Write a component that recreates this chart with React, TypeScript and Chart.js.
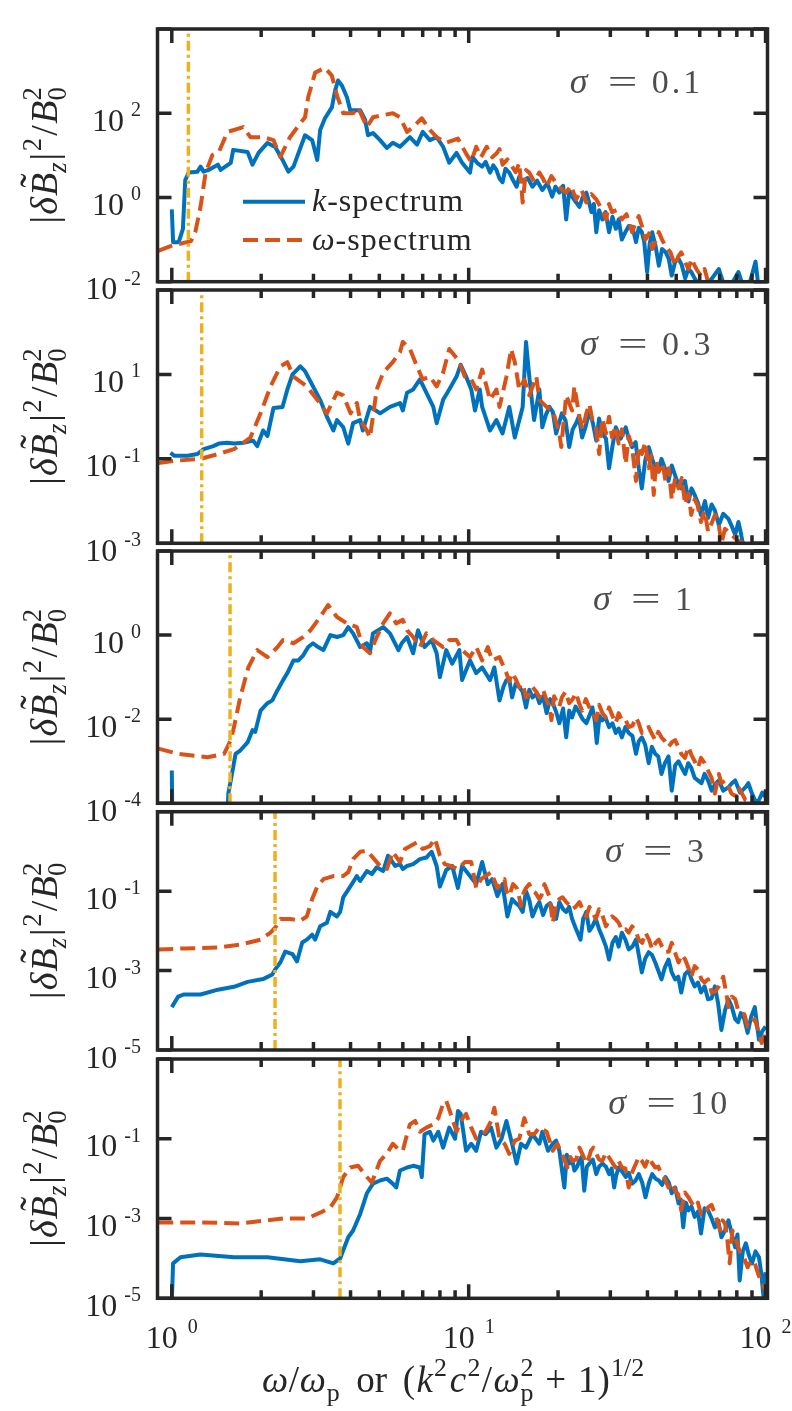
import React, { useEffect, useRef } from 'react';
import { Chart, registerables } from 'chart.js';

Chart.register(...registerables);

// ---------------- data (x, |dB|^2/B0^2) ----------------
const P1_K: [number, number][] = [
  [1.0, 0.52], [1.01, 0.087], [1.055, 0.087], [1.09, 0.18], [1.11, 2.6], [1.14, 3.9], [1.22, 4.1], [1.25, 5.4],
  [1.28, 4.1], [1.33, 4.5], [1.43, 6], [1.46, 4.5], [1.58, 6.6], [1.61, 13.5], [1.8, 12], [1.87, 6], [1.96, 11.4],
  [2.1, 19.7], [2.23, 15.8], [2.36, 7.8], [2.47, 4.1], [2.57, 5.4], [2.81, 30], [2.97, 23], [3.09, 7.8], [3.16, 40],
  [3.28, 76], [3.46, 138], [3.55, 350], [3.63, 600], [3.74, 457], [3.89, 240], [3.99, 118], [4.31, 118], [4.48, 69],
  [4.58, 30], [4.76, 34], [5.03, 23], [5.3, 15], [5.55, 20], [5.87, 16], [6.34, 27], [6.7, 18], [7.0, 36], [7.4, 23],
  [7.8, 27], [8.2, 16], [8.6, 6.7], [9.1, 11.4], [9.5, 6.7], [10.1, 3.9], [10.3, 9.2], [10.7, 6.5], [11.1, 5.4],
  [11.4, 7], [11.8, 3.9], [12.1, 5.8], [12.4, 4.5], [12.7, 2.8], [13.0, 2.3], [13.3, 4.8], [13.7, 3.9], [14.1, 2.6],
  [14.5, 1.8], [14.8, 3.1], [15.2, 2.4], [15.8, 2.9], [16.4, 1.8], [17, 2.5], [17.7, 1.5], [18.4, 2.2], [19.1, 1.05],
  [19.6, 1.8], [20.2, 1.3], [20.8, 1.9], [21.3, 0.3], [21.8, 1.4], [22.3, 1.05], [22.9, 0.8], [23.6, 0.6], [24.2, 1.0],
  [24.9, 1.3], [25.4, 0.8], [25.9, 0.45], [26.4, 0.7], [26.9, 0.15], [27.5, 0.5], [28.2, 0.3], [28.9, 0.45],
  [29.7, 0.15], [30.5, 0.35], [31.3, 0.18], [32, 0.3], [32.8, 0.1], [33.7, 0.15], [34.6, 0.21], [35.6, 0.2],
  [36.6, 0.087], [37.4, 0.19], [38.3, 0.15], [39, 0.09], [39.9, 0.017], [40.7, 0.08], [41.5, 0.15], [42.6, 0.07],
  [43.7, 0.024], [44.8, 0.06], [46.0, 0.051], [47.2, 0.035], [48.3, 0.014], [49.6, 0.03], [50.9, 0.035],
  [52.2, 0.025], [53.6, 0.012], [54.9, 0.02], [56.2, 0.017], [57.7, 0.012], [59.2, 0.009], [62, 0.007], [66, 0.012],
  [69.6, 0.02], [73, 0.007], [77, 0.009], [81, 0.017], [85, 0.006], [89, 0.011], [92.5, 0.03], [95, 0.006], [98, 0.008],
];
const P1_W: [number, number][] = [
  [0.9, 0.054], [0.99, 0.07], [1.16, 0.092], [1.2, 0.15], [1.25, 0.61], [1.3, 3.9], [1.37, 10.2], [1.44, 12],
  [1.54, 36], [1.74, 47], [1.84, 27], [2.03, 27], [2.2, 23], [2.32, 9.2], [2.5, 27], [2.71, 58], [2.81, 80],
  [2.88, 240], [3.04, 920], [3.28, 1200], [3.46, 780], [3.6, 265], [3.78, 100], [4.08, 100], [4.24, 138], [4.54, 47],
  [4.76, 80], [5.15, 90], [5.55, 100], [5.87, 80], [6.2, 36], [6.5, 47], [6.95, 76], [7.4, 40], [7.8, 27], [8.4, 20],
  [9.2, 25], [9.8, 11], [10.2, 7], [10.6, 16], [11, 9], [11.5, 16], [12, 9], [12.4, 11], [12.7, 14], [13.0, 6],
  [13.5, 8], [14.0, 5.4], [14.4, 4], [14.8, 6.6], [15.2, 0.76], [15.6, 4.5], [16.0, 3.9], [16.6, 2.4], [17.3, 3.9],
  [17.8, 2.8], [18.3, 1.8], [19, 3.2], [19.7, 2.2], [20.5, 1.6], [21.3, 1.3], [22.1, 1.9], [23.0, 0.9], [24, 1.5],
  [24.9, 0.76], [25.9, 1.2], [26.9, 0.9], [28, 0.55], [29.0, 0.3], [29.7, 0.7], [30.4, 0.45], [31.5, 0.5], [32.8, 0.3],
  [34, 0.4], [35.5, 0.15], [36.5, 0.25], [37.4, 0.36], [38.4, 0.2], [39.4, 0.1], [40.5, 0.14], [41.5, 0.06],
  [42.6, 0.09], [43.7, 0.15], [44.8, 0.1], [46.0, 0.07], [47.8, 0.05], [49.6, 0.024], [50.8, 0.04], [52.0, 0.05],
  [53.5, 0.03], [55.0, 0.02], [56.3, 0.035], [57.7, 0.024], [59, 0.018], [60.6, 0.014], [62.3, 0.02], [64, 0.01],
  [65.5, 0.012], [67, 0.008],
];
const P2_K: [number, number][] = [
  [0.99, 0.14], [1.02, 0.118], [1.13, 0.118], [1.22, 0.13], [1.28, 0.17], [1.38, 0.2], [1.44, 0.23], [1.54, 0.24],
  [1.62, 0.23], [1.74, 0.24], [1.88, 0.27], [1.94, 0.2], [2.03, 0.47], [2.1, 0.35], [2.2, 1.6], [2.36, 1.7],
  [2.45, 4.4], [2.55, 10], [2.71, 15.5], [2.81, 12], [2.99, 5.2], [3.16, 2.5], [3.33, 1], [3.5, 0.47], [3.6, 0.83],
  [3.78, 0.56], [3.93, 0.23], [4.08, 0.7], [4.31, 0.83], [4.4, 0.47], [4.65, 1.7], [5.03, 1.2], [5.43, 1.7],
  [5.87, 2.1], [6.0, 1.4], [6.2, 3.7], [6.5, 4.4], [6.85, 7.6], [7.2, 3.7], [7.6, 1.7], [7.8, 0.7], [8.2, 2.5],
  [8.6, 4.4], [9.1, 8.9], [9.4, 17], [9.8, 8.9], [10.2, 4.4], [10.5, 1.4], [10.9, 4.4], [11.1, 1.7], [11.8, 0.47],
  [12.4, 0.83], [13, 0.4], [13.7, 1.7], [14.3, 0.32], [15.2, 1.7], [15.6, 59], [16, 8.9], [16.6, 0.83], [17.3, 4.4],
  [17.7, 0.56], [18.2, 1.1], [18.7, 1.7], [19.2, 1.3], [19.7, 0.4], [20.6, 1.2], [21.2, 0.8], [21.8, 0.19],
  [22.4, 0.5], [23, 0.7], [23.5, 1.0], [24.1, 0.32], [24.8, 0.6], [25.5, 1.4], [26.2, 0.7], [26.9, 0.27], [27.5, 0.9],
  [28.2, 0.4], [29, 0.3], [29.7, 0.06], [30.5, 0.2], [31.3, 0.56], [32.5, 0.3], [33.8, 0.56], [34.6, 0.3],
  [35.5, 0.19], [36.5, 0.25], [37.4, 0.06], [38.3, 0.02], [39.3, 0.09], [40.4, 0.19], [41.5, 0.1], [42.5, 0.06],
  [43.5, 0.05], [44.6, 0.1], [45.8, 0.06], [47.1, 0.03], [48.3, 0.07], [49.6, 0.04], [50.8, 0.025], [52, 0.02],
  [53.5, 0.03], [55, 0.0098], [56.3, 0.02], [57.7, 0.014], [59.2, 0.009], [60.6, 0.0047], [62.5, 0.01], [64, 0.004],
  [65.8, 0.0083], [67.5, 0.006], [69.6, 0.0027], [72, 0.005], [75, 0.0038], [77, 0.0025], [79, 0.0016], [81, 0.0032],
  [82.5, 0.0018], [84, 0.0009],
];
const P2_W: [number, number][] = [
  [0.9, 0.08], [1.02, 0.09], [1.25, 0.1], [1.43, 0.13], [1.62, 0.17], [1.84, 0.32], [1.99, 1.2], [2.15, 5.2],
  [2.32, 15.5], [2.45, 19.5], [2.57, 8.9], [2.85, 5.2], [3.09, 2.5], [3.33, 1.2], [3.6, 3.7], [3.78, 3.2], [4.0, 1.2],
  [4.2, 2.1], [4.31, 0.83], [4.54, 0.47], [4.65, 0.32], [4.9, 4.4], [5.15, 11], [5.55, 19.5], [5.87, 34], [6.0, 59],
  [6.34, 40], [6.7, 15.5], [7.0, 7.6], [7.4, 8.9], [7.8, 5.2], [8.2, 11], [8.6, 40], [9.0, 27], [9.3, 19.5],
  [9.7, 8.9], [10.1, 8.9], [10.6, 4.4], [11.1, 13], [11.8, 2.5], [12.4, 4.4], [12.7, 1.7], [13.4, 8.9], [13.9, 40],
  [14.3, 19.5], [14.8, 4.4], [15.4, 7.6], [16, 3.2], [16.9, 8.9], [17.3, 2.5], [18.3, 1.7], [19.2, 1.4], [20.2, 0.4],
  [20.5, 0.19], [21.3, 3.2], [22.3, 1.4], [22.7, 5.2], [23.6, 1], [24.2, 0.5], [24.9, 1.2], [25.5, 2], [26.1, 0.83],
  [26.8, 0.6], [27.5, 0.13], [28.2, 0.9], [29, 0.4], [29.7, 1.0], [30.4, 0.32], [31.2, 0.6], [32, 0.23], [32.8, 0.5],
  [33.8, 0.076], [34.6, 0.35], [35.5, 0.19], [36.6, 0.03], [37.4, 0.2], [38.3, 0.13], [39.3, 0.25], [40.4, 0.06],
  [41.2, 0.12], [42, 0.014], [42.8, 0.09], [43.7, 0.05], [45, 0.08], [46, 0.03], [47.2, 0.06], [48.3, 0.011],
  [49.6, 0.035], [50.9, 0.02], [52.2, 0.035], [53.6, 0.0083], [55, 0.015], [56.2, 0.0047], [57.7, 0.011], [59, 0.008],
  [60.6, 0.0032], [62.3, 0.006], [64, 0.0019], [65.8, 0.003], [67.5, 0.0047], [69.2, 0.0035], [71, 0.001],
  [73, 0.0022], [76.8, 0.0016], [80, 0.0012], [85.5, 0.00095],
];
const P3_K: [number, number][] = [
  [1.0, 6e-4], [1.004, 5e-5], [1.54, 5e-5], [1.55, 1.7e-4], [1.58, 3.5e-4], [1.64, 1.5e-3], [1.7, 1.8e-3],
  [1.8, 2.8e-3], [1.87, 5.5e-3], [1.91, 5e-3], [1.99, 0.016], [2.1, 0.024], [2.18, 0.028], [2.27, 0.049],
  [2.37, 0.085], [2.45, 0.125], [2.57, 0.25], [2.67, 0.25], [2.77, 0.33], [2.88, 0.52], [2.99, 0.64], [3.11, 0.52],
  [3.24, 0.44], [3.42, 1], [3.6, 0.9], [3.78, 1], [3.93, 1.55], [4.08, 1.1], [4.31, 0.52], [4.54, 0.64], [4.65, 0.4],
  [4.76, 1.1], [5.15, 1.55], [5.43, 1.1], [5.8, 0.44], [5.95, 0.64], [6.2, 0.9], [6.5, 0.37], [6.75, 1.3],
  [7.1, 0.52], [7.5, 0.76], [7.8, 0.37], [8.0, 0.1], [8.4, 0.44], [8.8, 0.21], [9.3, 0.44], [9.5, 0.085],
  [10.1, 0.25], [10.6, 0.125], [11.1, 0.17], [11.8, 0.085], [12.2, 0.17], [12.7, 0.028], [13.1, 0.06], [13.4, 0.085],
  [13.7, 0.09], [14, 0.033], [14.4, 0.07], [14.8, 0.058], [15.2, 0.045], [15.6, 0.019], [16, 0.05], [16.4, 0.033],
  [16.9, 0.04], [17.3, 0.024], [17.8, 0.035], [18.3, 0.014], [18.8, 0.03], [19.2, 0.024], [19.7, 0.015], [20.2, 0.008],
  [20.8, 0.018], [21.3, 0.0037], [21.8, 0.016], [22.3, 0.011], [22.9, 0.02], [23.6, 0.014], [24.2, 0.01],
  [24.9, 0.008], [25.5, 0.012], [26.1, 0.019], [26.6, 0.009], [27, 0.0027], [27.6, 0.012], [28.2, 0.0094],
  [28.9, 0.011], [29.7, 0.0065], [30.5, 0.008], [31.3, 0.0047], [32, 0.006], [32.8, 0.0037], [33.7, 0.0065],
  [34.6, 0.0047], [35.6, 0.004], [36.6, 0.0015], [37.4, 0.003], [38.3, 0.0037], [39.3, 0.0025], [40.4, 9e-4],
  [41.4, 0.0022], [42.5, 0.0015], [43.5, 0.0013], [44.6, 5e-4], [45.8, 9e-4], [47.1, 0.0013], [48.3, 2e-4],
  [49.6, 8e-4], [50.9, 0.001], [52.2, 7e-4], [53.6, 5e-4], [54.9, 9e-4], [56.2, 7e-4], [57.7, 4e-4], [59.2, 3.5e-4],
  [60.8, 3e-4], [62.3, 5e-4], [64, 3.5e-4], [65.8, 2e-4], [67.5, 2.8e-4], [69.6, 3.5e-4], [72, 2e-4], [75, 2.4e-4],
  [77, 3e-4], [79, 3.5e-4], [82, 1.8e-4], [85.5, 2.4e-4], [87.5, 3e-4], [90, 1.7e-4], [92.5, 1.1e-4], [95, 1.2e-4],
  [97.5, 1.8e-4], [100, 1.4e-4],
];
const P3_W: [number, number][] = [
  [0.9, 2e-3], [1.05, 1.5e-3], [1.32, 1.25e-3], [1.5, 1.5e-3], [1.58, 3.2e-3], [1.62, 6.5e-3], [1.7, 0.033],
  [1.81, 0.17], [1.94, 0.44], [2.1, 0.3], [2.27, 0.52], [2.37, 0.76], [2.57, 0.64], [2.77, 0.9], [2.93, 1.3],
  [3.16, 2.7], [3.36, 5.2], [3.6, 2.7], [3.89, 1.9], [4.2, 1.55], [4.4, 0.52], [4.65, 0.37], [4.9, 0.9], [5.15, 1.9],
  [5.43, 3.3], [5.7, 1.9], [6.0, 2.3], [6.2, 1.3], [6.5, 0.9], [6.85, 0.52], [7.2, 1.1], [7.6, 0.76], [8.2, 0.52],
  [8.6, 0.76], [9.1, 0.76], [9.5, 0.44], [10.1, 0.3], [10.6, 0.52], [11.1, 0.25], [11.6, 0.52], [12, 0.25],
  [12.7, 0.3], [13.4, 0.125], [13.7, 0.08], [14, 0.125], [14.4, 0.09], [14.8, 0.058], [15.2, 0.07], [15.6, 0.033],
  [16, 0.04], [16.4, 0.058], [16.9, 0.045], [17.3, 0.033], [17.8, 0.05], [18.3, 0.028], [18.7, 0.02], [19, 0.0095],
  [19.4, 0.035], [19.7, 0.028], [20.2, 0.02], [20.6, 0.033], [21.2, 0.045], [21.8, 0.024], [22.4, 0.03], [23, 0.042],
  [23.5, 0.025], [24.1, 0.016], [24.8, 0.03], [25.5, 0.019], [26.2, 0.014], [26.9, 0.0095], [27.5, 0.022],
  [28.2, 0.014], [29, 0.011], [29.7, 0.019], [30.5, 0.012], [31.3, 0.008], [32, 0.014], [32.8, 0.0095], [33.7, 0.01],
  [34.6, 0.0065], [35.6, 0.007], [36.6, 0.011], [37.4, 0.008], [38.3, 0.0047], [39.3, 0.006], [40.4, 0.0065],
  [41.4, 0.0045], [42.5, 0.0032], [43.5, 0.005], [44.6, 0.0037], [45.8, 0.003], [47.1, 0.0022], [48.3, 0.0028],
  [49.6, 0.0032], [50.8, 0.0022], [52, 0.0015], [53.5, 0.0012], [55, 0.0022], [56.3, 0.0014], [57.7, 0.001],
  [59.2, 7e-4], [60.6, 0.0012], [62.3, 9e-4], [64, 6e-4], [65.8, 4e-4], [67.5, 1.7e-4], [69.6, 5e-4], [71, 3e-4],
  [73, 3.5e-4], [75, 2.5e-4], [76.8, 1.7e-4], [79, 1.5e-4], [81, 2.4e-4], [83, 1.8e-4], [85.5, 1.2e-4], [88, 1.1e-4],
  [90, 1e-4],
];
const P4_K: [number, number][] = [
  [1.0, 1.2e-4], [1.05, 2.2e-4], [1.1, 2.5e-4], [1.25, 2.5e-4], [1.43, 3.3e-4], [1.62, 3.9e-4], [1.8, 5.2e-4],
  [2.03, 6.1e-4], [2.18, 8e-4], [2.23, 1.07e-3], [2.32, 1.6e-3], [2.41, 3e-3], [2.55, 2.6e-3], [2.64, 1.7e-3],
  [2.75, 5.1e-3], [2.85, 6e-3], [2.97, 8e-3], [3.04, 6e-3], [3.16, 0.013], [3.33, 0.016], [3.42, 0.03], [3.6, 0.023],
  [3.69, 0.03], [3.78, 0.07], [3.99, 0.13], [4.2, 0.24], [4.31, 0.18], [4.54, 0.32], [4.72, 0.27], [4.9, 0.4],
  [5.15, 0.32], [5.35, 0.78], [5.65, 0.43], [5.87, 0.48], [6.0, 0.36], [6.2, 0.43], [6.5, 0.48], [6.85, 0.64],
  [7.2, 0.7], [7.5, 0.98], [7.8, 0.43], [8.0, 0.13], [8.4, 0.34], [8.8, 0.43], [9.2, 0.12], [9.5, 0.43], [10.1, 0.24],
  [10.6, 0.15], [11.1, 0.54], [11.6, 0.15], [12, 0.2], [12.5, 0.075], [13, 0.15], [13.5, 0.023], [14, 0.063],
  [14.4, 0.05], [14.8, 0.042], [15.2, 0.03], [15.6, 0.1], [16, 0.06], [16.4, 0.023], [16.9, 0.04], [17.3, 0.053],
  [17.8, 0.025], [18.3, 0.042], [18.8, 0.05], [19.2, 0.035], [19.7, 0.02], [20.2, 0.053], [20.8, 0.035], [21.3, 0.03],
  [21.8, 0.04], [22.3, 0.02], [22.9, 0.012], [23.8, 6e-3], [24.3, 0.02], [24.9, 0.03], [25.5, 0.01], [26.1, 0.013],
  [26.8, 0.02], [27.5, 0.011], [28.2, 0.007], [29, 4e-3], [29.7, 1.9e-3], [30.5, 0.005], [31.3, 7e-3], [32, 0.004],
  [32.8, 9e-3], [33.7, 0.006], [34.6, 3.4e-3], [35.6, 0.004], [36.6, 6e-3], [37.4, 0.0025], [38.3, 9e-4],
  [39.3, 0.002], [40.4, 2.9e-3], [41.4, 0.0025], [42.5, 1.6e-3], [43.5, 0.001], [44.6, 6e-4], [45.8, 0.0012],
  [47.1, 1.9e-3], [48.3, 9e-4], [49.6, 6e-4], [50.8, 7e-4], [52, 2.8e-4], [53.5, 8e-4], [55, 1e-3], [56.3, 6e-4],
  [57.7, 4e-4], [59.2, 5e-4], [60.6, 2.8e-4], [62.3, 4e-4], [64, 1.9e-4], [65.8, 2e-4], [67.5, 4e-4], [69.2, 1.5e-4],
  [71, 3.2e-5], [73, 1e-4], [75, 1.9e-4], [77, 1.2e-4], [79, 6e-5], [80.8, 5e-5], [82.5, 8.5e-5], [84.8, 6e-5],
  [87, 2.7e-5], [89.5, 7e-5], [92, 1.2e-4], [95, 1.8e-5], [97.5, 3e-5], [100, 3.9e-5],
];
const P4_W: [number, number][] = [
  [0.9, 3.4e-3], [1.1, 3.6e-3], [1.43, 3.8e-3], [1.7, 4.5e-3], [1.99, 6e-3], [2.15, 9e-3], [2.23, 0.012],
  [2.32, 0.02], [2.5, 0.02], [2.71, 0.018], [2.85, 0.023], [2.97, 0.063], [3.09, 0.13], [3.24, 0.2], [3.5, 0.24],
  [3.78, 0.24], [3.93, 0.3], [4.08, 0.64], [4.31, 0.98], [4.54, 1.05], [4.76, 0.7], [5.03, 0.43], [5.3, 0.36],
  [5.55, 0.98], [5.87, 0.54], [6.1, 1.15], [6.34, 1.35], [6.7, 1.7], [7.0, 1.15], [7.4, 1.35], [7.7, 2.1], [8.0, 0.78],
  [8.3, 0.48], [8.7, 0.43], [9.2, 0.36], [9.7, 0.54], [10.2, 0.54], [10.6, 0.12], [11, 0.2], [11.4, 0.24], [11.9, 0.3],
  [12.5, 0.12], [12.8, 0.15], [13.2, 0.2], [13.4, 0.1], [13.7, 0.075], [14.1, 0.15], [14.5, 0.12], [14.8, 0.07],
  [15, 0.042], [15.3, 0.09], [15.6, 0.12], [16, 0.15], [16.4, 0.1], [16.8, 0.09], [17.3, 0.063], [17.6, 0.08],
  [18, 0.15], [18.4, 0.1], [18.7, 0.075], [19.2, 0.016], [19.7, 0.05], [20.2, 0.063], [20.7, 0.07], [21.3, 0.053],
  [21.8, 0.045], [22.3, 0.035], [22.9, 0.04], [23.6, 0.053], [24.2, 0.035], [24.9, 0.023], [25.5, 0.04], [26.1, 0.03],
  [26.8, 0.02], [27.5, 0.035], [28.2, 0.025], [29, 0.013], [29.7, 0.018], [30.4, 0.023], [31.2, 0.02], [32, 0.016],
  [32.9, 0.01], [33.8, 0.011], [34.6, 0.009], [35.5, 0.013], [36.5, 0.01], [37.4, 6e-3], [38.4, 0.005], [39.4, 9e-3],
  [40.5, 0.006], [41.5, 3.4e-3], [42.6, 0.005], [43.7, 6e-3], [44.8, 0.004], [46, 2.9e-3], [47.2, 0.003], [48.3, 5e-3],
  [49.6, 0.0028], [50.9, 1.6e-3], [52.2, 0.0025], [53.6, 1.9e-3], [54.9, 0.0012], [56.2, 7e-4], [57.7, 0.0013],
  [59.2, 1.07e-3], [60.8, 6e-4], [62.3, 5e-4], [64, 6e-4], [65.8, 2.8e-4], [67.7, 3e-4], [69.6, 4e-4], [70.8, 5e-4],
  [72, 7e-4], [73.5, 3e-4], [75, 1.2e-4], [77, 2.2e-4], [79, 1.9e-4], [80.8, 1e-4], [82.5, 8.5e-5], [84.8, 8e-5],
  [87, 3.9e-5], [89.5, 5e-5], [92, 6e-5], [94.5, 3e-5], [97, 1.5e-5], [100, 2.7e-5],
];
const P5_K: [number, number][] = [
  [1.0, 8e-6], [1.01, 7.5e-5], [1.07, 1.07e-4], [1.25, 1.26e-4], [1.62, 1.07e-4], [2.1, 1.07e-4], [2.71, 8.5e-5],
  [3.16, 9.5e-5], [3.5, 7.5e-5], [3.69, 1e-4], [3.78, 1.6e-4], [3.93, 3.4e-4], [4.08, 5e-4], [4.31, 1.3e-3],
  [4.54, 4.3e-3], [4.76, 7.5e-3], [5.03, 9e-3], [5.3, 0.01], [5.55, 7.5e-3], [5.7, 6e-3], [5.87, 0.016], [6.2, 0.019],
  [6.5, 0.021], [6.85, 0.019], [6.95, 0.011], [7.1, 0.13], [7.4, 0.15], [7.6, 0.09], [7.9, 0.15], [8.2, 0.06],
  [8.6, 0.19], [9.0, 0.1], [9.2, 0.5], [9.4, 0.42], [9.8, 0.05], [10.2, 0.075], [10.6, 0.05], [11, 0.15], [11.4, 0.13],
  [11.9, 0.19], [12.4, 0.06], [12.9, 0.1], [13.4, 0.28], [14, 0.075], [14.5, 0.024], [15, 0.075], [15.6, 0.06],
  [16.4, 0.13], [17.3, 0.075], [17.7, 0.15], [18.5, 0.05], [19.2, 0.075], [19.7, 0.09], [20.2, 0.05], [21, 6e-3],
  [21.4, 0.04], [21.8, 0.024], [22.3, 0.03], [22.7, 0.016], [23.2, 0.02], [23.6, 0.028], [24, 0.035], [24.5, 5e-3],
  [25, 0.02], [25.5, 0.024], [26.2, 0.03], [26.9, 0.013], [27.5, 0.02], [28.2, 0.024], [29, 0.02], [29.7, 0.013],
  [30.3, 0.018], [30.9, 6e-3], [31.4, 0.012], [32, 0.019], [32.9, 0.015], [33.8, 0.011], [34.6, 0.014], [35.5, 7.5e-3],
  [36.5, 0.009], [37.4, 0.013], [38.4, 0.008], [39.4, 3.4e-3], [40.5, 0.008], [41.5, 0.013], [42.6, 0.01],
  [43.7, 9e-3], [44.8, 0.007], [46, 0.011], [47.2, 0.008], [48.3, 4.3e-3], [49.6, 0.006], [50.9, 2.4e-3],
  [51.8, 0.003], [52.8, 6e-4], [53.9, 0.0025], [55, 1.6e-3], [56.3, 0.002], [57.7, 1.1e-3], [59.2, 0.0015],
  [60.6, 4.2e-4], [62.3, 0.0018], [64, 1.6e-3], [65.8, 0.001], [67.5, 6e-4], [69.2, 9e-4], [71, 3.4e-4], [73, 5e-4],
  [75, 9e-4], [77, 4e-4], [79, 1.9e-4], [80.4, 4e-4], [81.8, 2.8e-5], [83.8, 1.5e-4], [85.8, 2.4e-4], [87.9, 1.2e-4],
  [90, 7.5e-5], [92.5, 1.5e-4], [95, 1.07e-4], [96.8, 4e-5], [98.5, 1e-5], [100, 4.5e-5],
];
const P5_W: [number, number][] = [
  [0.9, 8e-4], [1.25, 8e-4], [1.7, 7.5e-4], [2.37, 1e-3], [2.85, 1e-3], [3.16, 1.4e-3], [3.42, 1.9e-3], [3.6, 3.4e-3],
  [3.78, 0.011], [3.99, 0.019], [4.24, 0.021], [4.54, 0.011], [4.72, 8e-3], [5.03, 0.028], [5.3, 0.042],
  [5.55, 0.075], [5.87, 0.05], [6.0, 0.05], [6.2, 0.13], [6.34, 0.23], [6.6, 0.28], [6.85, 0.15], [7.2, 0.19],
  [7.6, 0.23], [7.9, 0.33], [8.2, 0.75], [8.4, 0.9], [8.7, 0.42], [9.1, 0.15], [9.4, 0.28], [9.8, 0.42], [10.2, 0.19],
  [10.6, 0.1], [11, 0.13], [11.4, 0.15], [11.9, 0.28], [12.2, 0.6], [12.7, 0.1], [13.2, 0.075], [13.7, 0.042],
  [14.3, 0.09], [14.8, 0.1], [15.4, 0.33], [16, 0.13], [16.6, 0.13], [17.3, 0.19], [18.3, 0.15], [19.2, 0.05],
  [19.9, 0.075], [20.6, 0.042], [21, 0.03], [21.5, 0.019], [22, 0.035], [22.3, 0.028], [23, 0.03], [23.6, 0.06],
  [24.2, 0.04], [24.9, 0.024], [25.3, 0.03], [25.8, 0.05], [26.3, 0.06], [26.9, 0.042], [27.5, 0.03], [28.2, 0.028],
  [29, 0.045], [29.7, 0.034], [30.5, 0.025], [31.3, 0.019], [32, 0.028], [32.8, 0.019], [33.7, 0.018], [34.6, 6e-3],
  [35.6, 0.015], [36.6, 0.024], [37.4, 0.035], [38.3, 0.028], [39.3, 0.02], [40.4, 0.034], [41.4, 0.025],
  [42.5, 0.019], [43.5, 0.02], [44.6, 0.013], [45.8, 0.01], [47.1, 6e-3], [48.3, 0.008], [49.6, 5e-3], [50.8, 0.004],
  [52, 1.6e-3], [53.5, 0.0045], [55, 3.4e-3], [56.3, 0.0025], [57.7, 1.9e-3], [59.2, 0.0025], [60.6, 1.3e-3],
  [62.3, 0.0012], [64, 1.9e-3], [65.8, 0.0022], [67.5, 1.3e-3], [69, 0.0008], [70.3, 5e-4], [71.6, 0.0009],
  [73, 7.5e-4], [74.3, 0.0003], [75.7, 7.5e-5], [77.3, 0.0005], [79, 3.4e-4], [80.8, 0.0002], [82.5, 1.3e-4],
  [84.8, 0.0001], [87, 6e-5], [89.5, 0.00009], [92, 7.5e-5], [94.5, 0.00004], [97, 2.4e-5], [100, 1.6e-5],
];

const K_SERIES = [P1_K, P2_K, P3_K, P4_K, P5_K];
const W_SERIES = [P1_W, P2_W, P3_W, P4_W, P5_W];
const SIGMA_VALUES = ['0.1', '0.3', '1', '3', '10'];
const CUTOFF_X = [1.137, 1.261, 1.571, 2.227, 3.686];
const Y_MIN_EXP = [-2, -3, -4, -5, -5];
const Y_MAX_EXP = [4, 3, 2, 1, 1];
const X_MIN = 0.895;
const X_MAX = 101.5;
const X_MAJOR = [1, 10, 100];
const X_MINOR = [2, 3, 4, 5, 6, 7, 8, 9, 20, 30, 40, 50, 60, 70, 80, 90];
const LEGEND_SYMBOLS = ['k', 'ω'];
const LEGEND_SUFFIX = '-spectrum';

// ---------------- layout / style ----------------
const W = 792;
const H = 1411;
const BOX_LEFT = 157.5;
const BOX_RIGHT = 767.5;
const BOX_TOP = [29, 290, 551, 811.7, 1059];
const BOX_BOTTOM = [281.7, 543.3, 803.3, 1050, 1298.3];
// sigma label anchor (left/baseline) in data coordinates
const SIGMA_POS: [number, number][] = [[21.9, 309], [23.7, 28.5], [26.2, 3.93], [28.8, 0.53], [29.5, 0.43]];
const FONT = '"Liberation Serif", "Times New Roman", serif';
const AXIS = '#262626';
const BLUE = '#0072BD';
const ORANGE = '#D95319';
const YELLOW = '#EDB120';
const GREY = '#4D4D4D';
const DASH = [15, 7];
const DASHDOT = [10, 4, 3, 4];
const LW = 4;
const FRAME_LW = 3.5;

interface Run { t: string; it?: boolean; s?: number; dy?: number; dx?: number; acc?: string; st?: Run }

function setFont(ctx: CanvasRenderingContext2D, F: number, r: Run) {
  ctx.font = `${r.it ? 'italic ' : ''}${(F * (r.s ?? 1)).toFixed(2)}px ${FONT}`;
}
function runW(ctx: CanvasRenderingContext2D, F: number, r: Run) {
  setFont(ctx, F, r);
  let w = ctx.measureText(r.t).width;
  if (r.st) {
    setFont(ctx, F, r.st);
    w = Math.max(w, ctx.measureText(r.st.t).width);
  }
  return w;
}
function runsWidth(ctx: CanvasRenderingContext2D, F: number, runs: Run[]) {
  return runs.reduce((a, r) => a + (r.dx ?? 0) * F + runW(ctx, F, r), 0);
}
function drawRuns(ctx: CanvasRenderingContext2D, F: number, runs: Run[], x: number, y: number) {
  let cx = x;
  ctx.textAlign = 'left';
  ctx.textBaseline = 'alphabetic';
  for (const r of runs) {
    cx += (r.dx ?? 0) * F;
    setFont(ctx, F, r);
    const w = ctx.measureText(r.t).width;
    ctx.fillText(r.t, cx, y + (r.dy ?? 0) * F);
    if (r.acc) {
      ctx.font = `${(F * 1.1).toFixed(2)}px ${FONT}`;
      const aw = ctx.measureText(r.acc).width;
      ctx.fillText(r.acc, cx + w / 2 - aw / 2 + 0.1 * F, y - 0.2 * F);
    }
    let ww = w;
    if (r.st) {
      setFont(ctx, F, r.st);
      ctx.fillText(r.st.t, cx, y + (r.st.dy ?? 0) * F);
      ww = Math.max(ww, ctx.measureText(r.st.t).width);
    }
    cx += ww;
  }
}

const SUB = 0.24;
const SUP = -0.42;
const Y_TITLE: Run[] = [
  { t: '|' },
  { t: 'δ', it: true, dx: 0.03 },
  { t: 'B', it: true, acc: '˜', dx: 0.03 },
  { t: 'z', it: true, s: 0.7, dy: SUB },
  { t: '|', dx: 0.05 },
  { t: '2', s: 0.7, dy: SUP, dx: 0.04 },
  { t: '/', dx: 0.06 },
  { t: 'B', it: true, dx: 0.04 },
  { t: '0', s: 0.7, dy: SUB, st: { t: '2', s: 0.7, dy: SUP } },
];
const X_TITLE: Run[] = [
  { t: 'ω', it: true },
  { t: '/', dx: 0.02 },
  { t: 'ω', it: true, dx: 0.02 },
  { t: 'p', s: 0.7, dy: SUB, dx: 0.02 },
  { t: 'or', dx: 0.45 },
  { t: '(', dx: 0.42 },
  { t: 'k', it: true, dx: 0.04 },
  { t: '2', s: 0.7, dy: SUP, dx: 0.03 },
  { t: 'c', it: true, dx: 0.08 },
  { t: '2', s: 0.7, dy: SUP, dx: 0.03 },
  { t: '/', dx: 0.04 },
  { t: 'ω', it: true, dx: 0.04 },
  { t: 'p', s: 0.7, dy: SUB, dx: 0.02, st: { t: '2', s: 0.7, dy: SUP } },
  { t: '+', dx: 0.32 },
  { t: '1', dx: 0.32 },
  { t: ')', dx: 0.03 },
  { t: '1/2', s: 0.7, dy: SUP, dx: 0.03 },
];

function powSizes(ctx: CanvasRenderingContext2D, exp: number, F: number, EF: number, gap: number) {
  ctx.font = `${F}px ${FONT}`;
  const tw = ctx.measureText('10').width;
  ctx.font = `${EF}px ${FONT}`;
  const ew = ctx.measureText(String(exp)).width;
  return { tw, ew, total: tw + gap + ew };
}

function makeDeco(i: number) {
  return {
    id: 'deco' + i,
    afterDraw(chart: any) {
      const ctx: CanvasRenderingContext2D = chart.ctx;
      const { left, right, top, bottom } = chart.chartArea;
      const xs = chart.scales.x;
      const ys = chart.scales.y;
      ctx.save();
      ctx.strokeStyle = AXIS;
      ctx.lineWidth = FRAME_LW;
      ctx.lineCap = 'butt';
      ctx.setLineDash([]);
      ctx.beginPath();
      const tick = (v: number, len: number) => {
        const p = xs.getPixelForValue(v);
        if (p < left - 0.5 || p > right + 0.5) return;
        ctx.moveTo(p, bottom); ctx.lineTo(p, bottom - len);
        ctx.moveTo(p, top); ctx.lineTo(p, top + len);
      };
      X_MAJOR.forEach((v) => tick(v, 14));
      X_MINOR.forEach((v) => tick(v, 8));
      for (let e = Y_MIN_EXP[i]; e <= Y_MAX_EXP[i]; e += 2) {
        const p = ys.getPixelForValue(Math.pow(10, e));
        ctx.moveTo(left, p); ctx.lineTo(left + 14, p);
        ctx.moveTo(right, p); ctx.lineTo(right - 14, p);
      }
      ctx.stroke();
      ctx.strokeRect(left, top, right - left, bottom - top);

      // y tick labels
      ctx.fillStyle = AXIS;
      ctx.textAlign = 'left';
      ctx.textBaseline = 'alphabetic';
      const TF = 32;
      const EF = 20;
      for (let e = Y_MIN_EXP[i]; e < Y_MAX_EXP[i]; e += 2) {
        const p = ys.getPixelForValue(Math.pow(10, e));
        const m = powSizes(ctx, e, TF, EF, 7);
        const ex = 141 - m.ew;
        ctx.font = `${EF}px ${FONT}`;
        ctx.fillText(String(e), ex, p + 3);
        ctx.font = `${TF}px ${FONT}`;
        ctx.fillText('10', ex - 7 - m.tw, p + 17.5);
      }

      // y title
      ctx.save();
      ctx.translate(57, (top + bottom) / 2);
      ctx.rotate(-Math.PI / 2);
      const YF = 38;
      const yw = runsWidth(ctx, YF, Y_TITLE);
      drawRuns(ctx, YF, Y_TITLE, -yw / 2, 0);
      ctx.restore();

      // sigma label
      const [sx, sy] = SIGMA_POS[i];
      const px = xs.getPixelForValue(sx);
      const py = ys.getPixelForValue(sy);
      ctx.fillStyle = GREY;
      ctx.font = `italic 36px ${FONT}`;
      ctx.fillText('σ', px, py);
      ctx.save();
      ctx.font = `34px ${FONT}`;
      ctx.translate(px + 38, py);
      ctx.scale(1.55, 1);
      ctx.fillText('=', 0, 0);
      ctx.restore();
      ctx.font = `34px ${FONT}`;
      (ctx as any).letterSpacing = '3px';
      ctx.fillText(SIGMA_VALUES[i], px + 82, py);
      (ctx as any).letterSpacing = '0px';

      // legend on first panel
      if (i === 0) {
        const colors = [BLUE, ORANGE];
        const ly = [top + 172.7, top + 211];
        for (let k = 0; k < 2; k++) {
          ctx.strokeStyle = colors[k];
          ctx.lineWidth = LW;
          ctx.setLineDash(k === 0 ? [] : DASH);
          ctx.beginPath();
          ctx.moveTo(left + 85.5, ly[k]);
          ctx.lineTo(left + 147.5, ly[k]);
          ctx.stroke();
          ctx.setLineDash([]);
          ctx.fillStyle = AXIS;
          (ctx as any).letterSpacing = '1px';
          drawRuns(ctx, 32, [{ t: LEGEND_SYMBOLS[k], it: true }, { t: LEGEND_SUFFIX }], left + 154.5, ly[k] + 9.5);
          (ctx as any).letterSpacing = '0px';
        }
      }

      // x tick labels + title on last panel
      if (i === 4) {
        ctx.fillStyle = AXIS;
        for (let e = 0; e <= 2; e++) {
          const p = xs.getPixelForValue(Math.pow(10, e));
          const m = powSizes(ctx, e, TF, EF, 10);
          const x0 = p - m.total / 2;
          ctx.font = `${TF}px ${FONT}`;
          ctx.fillText('10', x0, bottom + 50);
          ctx.font = `${EF}px ${FONT}`;
          ctx.fillText(String(e), x0 + m.tw + 10, bottom + 35);
        }
        const XF = 37;
        const xw = runsWidth(ctx, XF, X_TITLE);
        drawRuns(ctx, XF, X_TITLE, 453 - xw / 2, 1392);
      }
      ctx.restore();
    },
  };
}

function buildConfig(i: number): any {
  const ymin = Math.pow(10, Y_MIN_EXP[i]);
  const ymax = Math.pow(10, Y_MAX_EXP[i]);
  const common = { pointRadius: 0, showLine: true, fill: false, tension: 0, clip: 0, borderJoinStyle: 'round' };
  return {
    type: 'scatter',
    data: {
      datasets: [
        { ...common, label: 'k-spectrum', data: K_SERIES[i].map(([x, y]) => ({ x, y })), borderColor: BLUE, borderWidth: LW, order: 3 },
        { ...common, label: 'ω-spectrum', data: W_SERIES[i].map(([x, y]) => ({ x, y })), borderColor: ORANGE, borderWidth: LW, borderDash: DASH, order: 2 },
        { ...common, label: 'cutoff', data: [{ x: CUTOFF_X[i], y: ymin }, { x: CUTOFF_X[i], y: ymax }], borderColor: YELLOW, borderWidth: 3.5, borderDash: DASHDOT, order: 1 },
      ],
    },
    options: {
      responsive: false,
      animation: false,
      devicePixelRatio: 1,
      events: [],
      layout: {
        autoPadding: false,
        padding: { left: BOX_LEFT, right: W - BOX_RIGHT, top: BOX_TOP[i], bottom: H - BOX_BOTTOM[i] },
      },
      scales: {
        x: { type: 'logarithmic', min: X_MIN, max: X_MAX, display: false },
        y: { type: 'logarithmic', min: ymin, max: ymax, display: false },
      },
      plugins: { legend: { display: false }, tooltip: { enabled: false }, title: { display: false } },
    },
    plugins: [makeDeco(i)],
  };
}

export default function App() {
  const refs = useRef<(HTMLCanvasElement | null)[]>([]);
  useEffect(() => {
    const charts = [0, 1, 2, 3, 4].map((i) => new Chart(refs.current[i] as HTMLCanvasElement, buildConfig(i)));
    return () => charts.forEach((c) => c.destroy());
  }, []);
  return (
    <div style={{ position: 'absolute', left: 0, top: 0, width: W, height: H, background: '#ffffff' }}>
      {[0, 1, 2, 3, 4].map((i) => (
        <canvas
          key={i}
          ref={(el) => { refs.current[i] = el; }}
          width={W}
          height={H}
          style={{ position: 'absolute', left: 0, top: 0 }}
        />
      ))}
    </div>
  );
}
